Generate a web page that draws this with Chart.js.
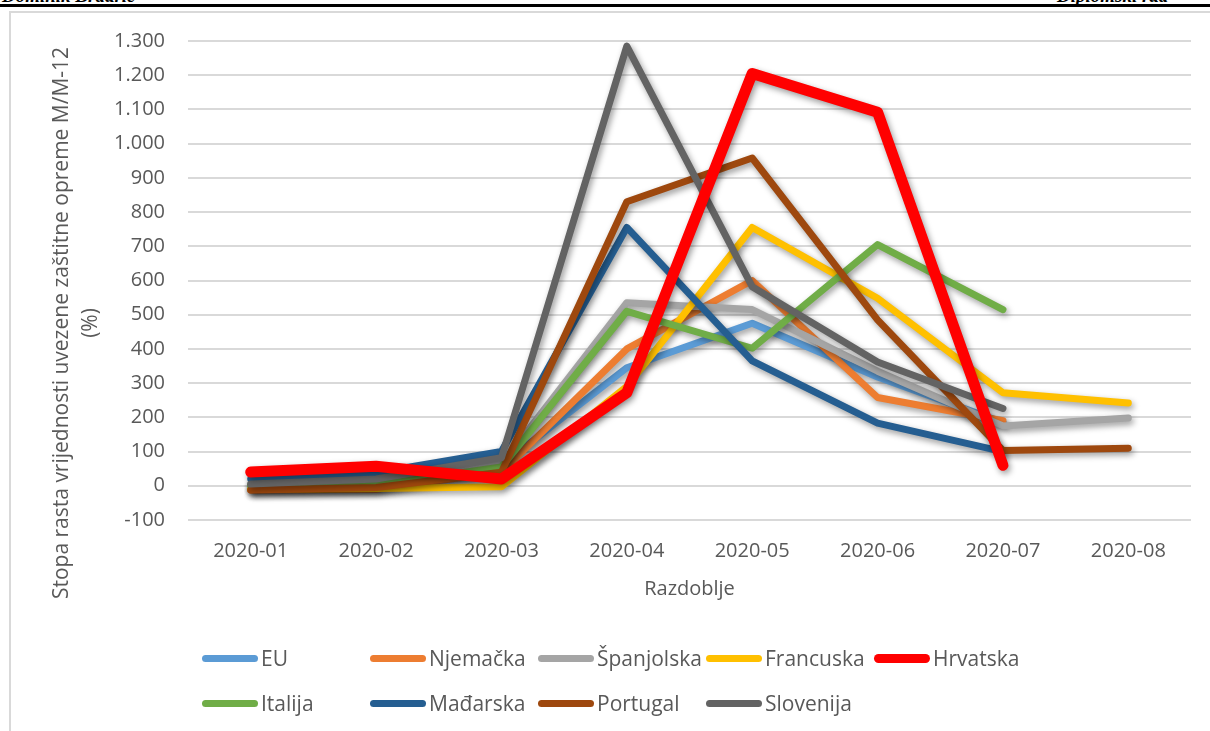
<!DOCTYPE html>
<html lang="hr">
<head>
  <meta charset="UTF-8" />
  <title>Stopa rasta uvezene zaštitne opreme</title>
  <script src="https://cdn.jsdelivr.net/npm/chart.js@4.4.0/dist/chart.umd.min.js"></script>
  <style>
    html, body { margin: 0; padding: 0; background: #fff; }
    body { width: 1210px; height: 731px; position: relative; overflow: hidden; font-family: "Open Sans", sans-serif; }
    .hdr { position: absolute; top: -15px; font-family: "Liberation Serif", serif; font-style: italic; font-weight: bold; font-size: 19px; color: #000; }
    .hdr.left { left: 2px; }
    .hdr.right { left: 1057px; white-space: nowrap; }
    .rule { position: absolute; left: 0; top: 4px; width: 1210px; height: 3px; background: #000; }
    .frame { position: absolute; left: 9px; top: 11px; width: 1300px; height: 800px; border: 2px solid #d9d9d9; }
    #wrap { position: absolute; left: 0; top: 0; width: 1210px; height: 731px; }
    .legend { position: absolute; left: 0; top: 0; width: 1210px; height: 731px; pointer-events: none; }
    .item { position: absolute; display: flex; align-items: center; height: 30px; font-size: 21px; color: #595959; }
    .swatch { width: 56px; border-radius: 5px; margin-right: 3px; }
  </style>
</head>
<body>
  <div class="hdr left">Dominik Brdarić</div>
  <div class="hdr right">Diplomski rad</div>
  <div class="rule"></div>
  <div class="frame"></div>
  <div id="wrap"><canvas id="chart"></canvas></div>
  <div class="legend" id="legend"></div>

  <script>
    var periods = ['2020-01', '2020-02', '2020-03', '2020-04', '2020-05', '2020-06', '2020-07', '2020-08'];

    // stopa rasta M/M-12 (%)
    var eu         = [0, 5, 60, 345, 475, 318, 185, null];
    var njemacka   = [-12, -10, 40, 400, 600, 258, 190, null];
    var spanjolska = [2, 5, 62, 535, 515, 335, 175, 198];
    var francuska  = [-10, -8, -3, 290, 755, 548, 272, 242];
    var hrvatska   = [40, 57, 20, 272, 1205, 1092, 60, null];
    var italija    = [0, 2, 55, 510, 402, 705, 515, null];
    var madarska   = [20, 38, 100, 755, 365, 183, 100, null];
    var portugal   = [-12, -5, 40, 830, 958, 485, 103, 110];
    var slovenija  = [5, 20, 82, 1285, 582, 362, 226, null];

    var yTicks = [-100, 0, 100, 200, 300, 400, 500, 600, 700, 800, 900, 1000, 1100, 1200, 1300];

    var series = [
      { label: 'EU', data: eu, color: '#5B9BD5', width: 7 },
      { label: 'Njemačka', data: njemacka, color: '#ED7D31', width: 7 },
      { label: 'Španjolska', data: spanjolska, color: '#A5A5A5', width: 7 },
      { label: 'Francuska', data: francuska, color: '#FFC000', width: 7 },
      { label: 'Hrvatska', data: hrvatska, color: '#FF0000', width: 11 },
      { label: 'Italija', data: italija, color: '#70AD47', width: 7 },
      { label: 'Mađarska', data: madarska, color: '#255E91', width: 7 },
      { label: 'Portugal', data: portugal, color: '#9E480E', width: 7 },
      { label: 'Slovenija', data: slovenija, color: '#636363', width: 7 }
    ];

    var textColor = '#595959';
    var font = '"Open Sans", sans-serif';

    // soft shadow under every line, like the office chart
    var lineShadow = {
      id: 'lineShadow',
      beforeDatasetDraw: function (chart) {
        var ctx = chart.ctx;
        ctx.save();
        ctx.shadowColor = 'rgba(0,0,0,0.4)';
        ctx.shadowBlur = 6;
        ctx.shadowOffsetX = 2;
        ctx.shadowOffsetY = 3;
      },
      afterDatasetDraw: function (chart) {
        chart.ctx.restore();
      }
    };

    // y axis title, two lines, sits a bit lower than the plot centre
    var yTitle = {
      id: 'yTitle',
      afterDraw: function (chart) {
        var ctx = chart.ctx;
        ctx.save();
        ctx.fillStyle = textColor;
        ctx.font = '21px ' + font;
        ctx.textAlign = 'center';
        ctx.textBaseline = 'middle';
        ctx.translate(62, 323);
        ctx.rotate(-Math.PI / 2);
        ctx.fillText('Stopa rasta vrijednosti uvezene zaštitne opreme M/M-12', 0, 0);
        ctx.fillText('(%)', 0, 29);
        ctx.restore();
      }
    };

    var datasets = series.map(function (s, i) {
      return {
        label: s.label,
        data: s.data,
        borderColor: s.color,
        backgroundColor: s.color,
        borderWidth: s.width,
        pointRadius: 0,
        pointHoverRadius: 0,
        tension: 0,
        fill: false,
        spanGaps: false,
        borderCapStyle: 'round',
        borderJoinStyle: 'round',
        // later series on top, Hrvatska above all
        order: s.label === 'Hrvatska' ? -100 : -i
      };
    });

    var chart = new Chart(document.getElementById('chart'), {
      type: 'line',
      data: { labels: periods, datasets: datasets },
      options: {
        responsive: true,
        maintainAspectRatio: false,
        animation: false,
        layout: { padding: { left: 0, right: 19, top: 41, bottom: 0 } },
        plugins: {
          legend: { display: false },
          tooltip: { enabled: false }
        },
        scales: {
          x: {
            offset: true,
            grid: { display: false, drawTicks: false },
            border: { display: false },
            ticks: { color: textColor, font: { family: font, size: 20 }, padding: 19, maxRotation: 0 },
            title: {
              display: true,
              text: 'Razdoblje',
              color: textColor,
              font: { family: font, size: 20 },
              padding: { top: 0, bottom: 130 }
            },
            afterFit: function (scale) { scale.height = 211; }
          },
          y: {
            min: -100,
            max: 1300,
            afterBuildTicks: function (scale) {
              scale.ticks = yTicks.map(function (v) { return { value: v }; });
            },
            grid: { color: '#d9d9d9', lineWidth: 2, drawTicks: false },
            border: { display: false },
            ticks: {
              color: textColor,
              font: { family: font, size: 20 },
              padding: 23,
              callback: function (v) {
                return v.toLocaleString('de-DE');
              }
            },
            afterFit: function (scale) { scale.width = 188; }
          }
        }
      },
      plugins: [lineShadow, yTitle]
    });

    // legend laid out in fixed columns, two rows
    var legendEl = document.getElementById('legend');
    series.forEach(function (s, i) {
      var row = i < 5 ? 0 : 1;
      var col = i < 5 ? i : i - 5;
      var item = document.createElement('div');
      item.className = 'item';
      item.style.left = (202 + col * 168) + 'px';
      item.style.top = (643 + row * 45) + 'px';
      var sw = document.createElement('span');
      sw.className = 'swatch';
      sw.style.background = s.color;
      sw.style.height = (s.label === 'Hrvatska' ? 9 : 7) + 'px';
      var txt = document.createElement('span');
      txt.textContent = s.label;
      item.appendChild(sw);
      item.appendChild(txt);
      legendEl.appendChild(item);
    });
  </script>
</body>
</html>
